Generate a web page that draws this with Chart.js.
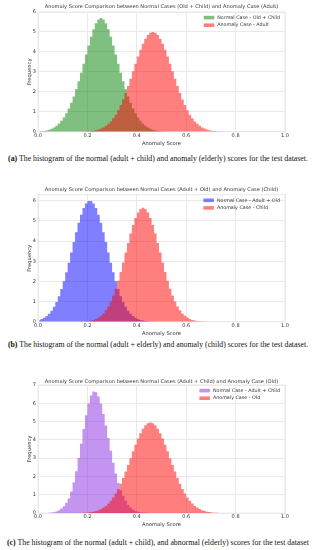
<!DOCTYPE html>
<html>
<head>
<meta charset="utf-8">
<script src="https://cdn.jsdelivr.net/npm/chart.js@4.4.1/dist/chart.umd.min.js"></script>
<style>
  html, body { margin: 0; padding: 0; background: #fff; }
  body { width: 316px; height: 550px; position: relative; overflow: hidden; }
  .panel { position: absolute; left: 0; width: 316px; }
  .caption {
    position: absolute; left: -20px; width: 356px; text-align: center;
    font-family: "Liberation Serif", "DejaVu Serif", serif; font-size: 7.8px;
    line-height: 9px; color: #111; white-space: nowrap;
  }
</style>
</head>
<body>
<div class="panel" style="top:0px;height:148px"><canvas id="chartA"></canvas></div>
<div class="caption" style="top:153.8px"><b>(a)</b> The histogram of the normal (adult + child) and anomaly (elderly) scores for the test dataset.</div>
<div class="panel" style="top:180px;height:158px"><canvas id="chartB"></canvas></div>
<div class="caption" style="top:339.8px"><b>(b)</b> The histogram of the normal (adult + elderly) and anomaly (child) scores for the test dataset.</div>
<div class="panel" style="top:370px;height:160px"><canvas id="chartC"></canvas></div>
<div class="caption" style="top:538.2px"><b>(c)</b> The histogram of the normal (adult + child), and abnormal (elderly) scores for the test dataset</div>
<script>
// histogram bins (bin centres, width 0.01)
const binCenters = [
  0.005, 0.015, 0.025, 0.035, 0.045, 0.055, 0.065, 0.075, 0.085, 0.095,
  0.105, 0.115, 0.125, 0.135, 0.145, 0.155, 0.165, 0.175, 0.185, 0.195,
  0.205, 0.215, 0.225, 0.235, 0.245, 0.255, 0.265, 0.275, 0.285, 0.295,
  0.305, 0.315, 0.325, 0.335, 0.345, 0.355, 0.365, 0.375, 0.385, 0.395,
  0.405, 0.415, 0.425, 0.435, 0.445, 0.455, 0.465, 0.475, 0.485, 0.495,
  0.505, 0.515, 0.525, 0.535, 0.545, 0.555, 0.565, 0.575, 0.585, 0.595,
  0.605, 0.615, 0.625, 0.635, 0.645, 0.655, 0.665, 0.675, 0.685, 0.695,
  0.705, 0.715, 0.725, 0.735, 0.745, 0.755, 0.765, 0.775, 0.785, 0.795
];

const xTicks = [0, 0.2, 0.4, 0.6, 0.8, 1.0];
const yTicksA = [0, 1, 2, 3, 4, 5, 6];
const yTicksB = [0, 1, 2, 3, 4, 5, 6];
const yTicksC = [0, 1, 2, 3, 4, 5, 6, 7];

// (a) normal = old + child, anomaly = adult
const normalA = [
  0.015, 0.025, 0.040, 0.065, 0.10, 0.15, 0.21, 0.30, 0.41, 0.55,
  0.72, 0.93, 1.17, 1.45, 1.77, 2.13, 2.53, 2.96, 3.41, 3.87,
  4.32, 4.76, 5.14, 5.44, 5.63, 5.70, 5.63, 5.44, 5.14, 4.76,
  4.32, 3.87, 3.41, 2.96, 2.53, 2.13, 1.77, 1.45, 1.17, 0.93,
  0.72, 0.55, 0.41, 0.30, 0.21, 0.15, 0.10, 0.065, 0.040, 0.025,
  0.015, 0.009, 0.005, 0.003, 0, 0, 0, 0, 0, 0,
  0, 0, 0, 0, 0, 0, 0, 0, 0, 0,
  0, 0, 0, 0, 0, 0, 0, 0, 0, 0
];
const anomalyA = [
  0, 0, 0, 0, 0, 0, 0, 0, 0, 0,
  0, 0, 0, 0, 0, 0, 0.004, 0.007, 0.011, 0.017,
  0.025, 0.038, 0.056, 0.080, 0.11, 0.16, 0.22, 0.30, 0.40, 0.52,
  0.68, 0.86, 1.08, 1.34, 1.62, 1.94, 2.29, 2.66, 3.03, 3.41,
  3.77, 4.11, 4.41, 4.66, 4.85, 4.96, 5.00, 4.96, 4.85, 4.66,
  4.41, 4.11, 3.77, 3.41, 3.03, 2.66, 2.29, 1.94, 1.62, 1.34,
  1.08, 0.86, 0.68, 0.52, 0.40, 0.30, 0.22, 0.16, 0.11, 0.080,
  0.056, 0.038, 0.025, 0.017, 0.011, 0.007, 0.004, 0, 0, 0
];

// (b) normal = adult + old, anomaly = child
const normalB = [
  0.093, 0.14, 0.20, 0.29, 0.40, 0.55, 0.75, 0.98, 1.27, 1.62,
  2.01, 2.45, 2.93, 3.43, 3.95, 4.44, 4.91, 5.31, 5.64, 5.87,
  5.99, 5.99, 5.87, 5.64, 5.31, 4.91, 4.44, 3.95, 3.43, 2.93,
  2.45, 2.01, 1.62, 1.27, 0.98, 0.75, 0.55, 0.40, 0.29, 0.20,
  0.14, 0.093, 0.061, 0.040, 0.025, 0.016, 0.010, 0.006, 0, 0,
  0, 0, 0, 0, 0, 0, 0, 0, 0, 0,
  0, 0, 0, 0, 0, 0, 0, 0, 0, 0,
  0, 0, 0, 0, 0, 0, 0, 0, 0, 0
];
const anomalyB = [
  0, 0, 0, 0, 0, 0, 0, 0, 0, 0,
  0, 0, 0, 0, 0, 0, 0.006, 0.010, 0.016, 0.026,
  0.040, 0.063, 0.095, 0.14, 0.21, 0.30, 0.41, 0.57, 0.76, 1.01,
  1.30, 1.64, 2.04, 2.47, 2.94, 3.43, 3.91, 4.38, 4.80, 5.15,
  5.42, 5.59, 5.65, 5.59, 5.42, 5.15, 4.80, 4.38, 3.91, 3.43,
  2.94, 2.47, 2.04, 1.64, 1.30, 1.01, 0.76, 0.57, 0.41, 0.30,
  0.21, 0.14, 0.095, 0.063, 0.040, 0.026, 0.016, 0.010, 0.006, 0,
  0, 0, 0, 0, 0, 0, 0, 0, 0, 0
];

// (c) normal = adult + child, anomaly = old
const normalC = [
  0, 0, 0, 0.007, 0.015, 0.03, 0.05, 0.09, 0.15, 0.25,
  0.38, 0.56, 0.80, 1.18, 1.68, 2.29, 3.01, 3.79, 4.59, 5.35,
  5.99, 6.43, 6.64, 6.60, 6.37, 5.97, 5.42, 4.79, 4.10, 3.41,
  2.75, 2.16, 1.64, 1.25, 0.95, 0.68, 0.46, 0.31, 0.20, 0.12,
  0.075, 0.045, 0.026, 0.014, 0.007, 0, 0, 0, 0, 0,
  0, 0, 0, 0, 0, 0, 0, 0, 0, 0,
  0, 0, 0, 0, 0, 0, 0, 0, 0, 0,
  0, 0, 0, 0, 0, 0, 0, 0, 0, 0
];
const anomalyC = [
  0, 0, 0, 0, 0, 0, 0, 0, 0, 0,
  0, 0, 0, 0, 0, 0.004, 0.007, 0.011, 0.017, 0.025,
  0.037, 0.055, 0.079, 0.11, 0.16, 0.22, 0.30, 0.39, 0.52, 0.67,
  0.85, 1.07, 1.32, 1.61, 1.92, 2.27, 2.63, 3.00, 3.38, 3.74,
  4.07, 4.37, 4.61, 4.80, 4.91, 4.95, 4.91, 4.80, 4.61, 4.37,
  4.07, 3.74, 3.38, 3.00, 2.63, 2.27, 1.92, 1.61, 1.32, 1.07,
  0.85, 0.67, 0.52, 0.39, 0.30, 0.22, 0.16, 0.11, 0.079, 0.055,
  0.037, 0.025, 0.017, 0.011, 0.007, 0.004, 0, 0, 0, 0
];

const FONT = "'DejaVu Sans', sans-serif";
const TEXT = '#333333';
const GRID = '#e9e9e9';

// light frame around the plot area (matplotlib spines)
const framePlugin = {
  id: 'frame',
  beforeDatasetsDraw(chart) {
    const a = chart.chartArea, ctx = chart.ctx;
    ctx.save();
    ctx.strokeStyle = GRID;
    ctx.lineWidth = 1;
    ctx.strokeRect(a.left, a.top, a.right - a.left, a.bottom - a.top);
    ctx.restore();
  }
};

// legend drawn inside the plot, upper right
const insideLegend = {
  id: 'insideLegend',
  afterDraw(chart) {
    const ctx = chart.ctx, a = chart.chartArea;
    const items = chart.data.datasets.slice().sort((p, q) => q.order - p.order);
    ctx.save();
    ctx.font = '4.8px ' + FONT;
    const textW = Math.max(...items.map(d => ctx.measureText(d.label).width));
    const patchW = 10.5, gap = 3;
    const x0 = a.right - 5 - textW - gap - patchW;
    let y = a.top + 5.6;
    items.forEach(d => {
      ctx.fillStyle = d.backgroundColor;
      ctx.fillRect(x0, y - 1.8, patchW, 3.6);
      ctx.fillStyle = TEXT;
      ctx.textBaseline = 'middle';
      ctx.fillText(d.label, x0 + patchW + gap, y);
      y += 7.6;
    });
    ctx.restore();
  }
};

function makePanel(id, opts) {
  const ds = (label, values, color, order) => ({
    label: label,
    data: binCenters.map((x, i) => ({ x: x, y: values[i] })),
    backgroundColor: color,
    borderWidth: 0,
    pointRadius: 0,
    stepped: 'middle',
    fill: 'origin',
    order: order
  });

  return new Chart(document.getElementById(id), {
    type: 'line',
    data: {
      datasets: [
        ds(opts.anomalyLabel, opts.anomaly, 'rgba(255, 0, 0, 0.5)', 0),
        ds(opts.normalLabel, opts.normal, opts.normalColor, 1)
      ]
    },
    options: {
      responsive: true,
      maintainAspectRatio: false,
      animation: false,
      layout: { padding: { left: 27, right: 31, top: 0, bottom: opts.padBottom } },
      plugins: {
        legend: { display: false },
        tooltip: { enabled: false },
        title: {
          display: true,
          fullSize: false,
          text: opts.title,
          color: TEXT,
          font: { family: FONT, size: 5.1, weight: 'normal', lineHeight: 1.2 },
          padding: { top: opts.titleTop, bottom: opts.titleBottom }
        }
      },
      scales: {
        x: {
          type: 'linear',
          min: 0,
          max: 1,
          afterBuildTicks: s => { s.ticks = xTicks.map(v => ({ value: v })); },
          ticks: {
            color: TEXT,
            padding: 0.9,
            font: { family: FONT, size: 5, lineHeight: 1.2 },
            callback: v => v.toFixed(1)
          },
          grid: { color: GRID, drawTicks: false },
          border: { color: GRID },
          title: {
            display: true,
            text: 'Anomaly Score',
            color: TEXT,
            font: { family: FONT, size: 5.2, lineHeight: 1.2 },
            padding: { top: 0.5, bottom: 0 }
          }
        },
        y: {
          min: 0,
          max: opts.yMax,
          afterBuildTicks: s => { s.ticks = opts.yTicks.map(v => ({ value: v })); },
          afterFit: s => { s.width = 11; },
          ticks: {
            color: TEXT,
            padding: 2,
            font: { family: FONT, size: 5, lineHeight: 1.2 }
          },
          grid: { color: GRID, drawTicks: false },
          border: { color: GRID },
          title: {
            display: true,
            text: 'Frequency',
            color: TEXT,
            font: { family: FONT, size: 5.2, lineHeight: 1.2 },
            padding: { top: 0, bottom: 0 }
          }
        }
      }
    },
    plugins: [framePlugin, insideLegend]
  });
}

makePanel('chartA', {
  title: 'Anomaly Score Comparison between Normal Cases (Old + Child) and Anomaly Case (Adult)',
  normalLabel: 'Normal Case - Old + Child',
  anomalyLabel: 'Anomaly Case - Adult',
  normalColor: 'rgba(0, 128, 0, 0.5)',
  normal: normalA,
  anomaly: anomalyA,
  yMax: 6.0,
  yTicks: yTicksA,
  titleTop: 3.84,
  titleBottom: 2.04,
  padBottom: 1.66
});

makePanel('chartB', {
  title: 'Anomaly Score Comparison between Normal Cases (Adult + Old) and Anomaly Case (Child)',
  normalLabel: 'Normal Case - Adult + Old',
  anomalyLabel: 'Anomaly Case - Child',
  normalColor: 'rgba(0, 0, 255, 0.5)',
  normal: normalB,
  anomaly: anomalyB,
  yMax: 6.3,
  yTicks: yTicksB,
  titleTop: 6.94,
  titleBottom: 1.64,
  padBottom: 1.66
});

makePanel('chartC', {
  title: 'Anomaly Score Comparison between Normal Cases (Adult + Child) and Anomaly Case (Old)',
  normalLabel: 'Normal Case - Adult + Child',
  anomalyLabel: 'Anomaly Case - Old',
  normalColor: 'rgba(138, 43, 226, 0.5)',
  normal: normalC,
  anomaly: anomalyC,
  yMax: 7.0,
  yTicks: yTicksC,
  titleTop: 8.64,
  titleBottom: 0.24,
  padBottom: 2.36
});
</script>
</body>
</html>
